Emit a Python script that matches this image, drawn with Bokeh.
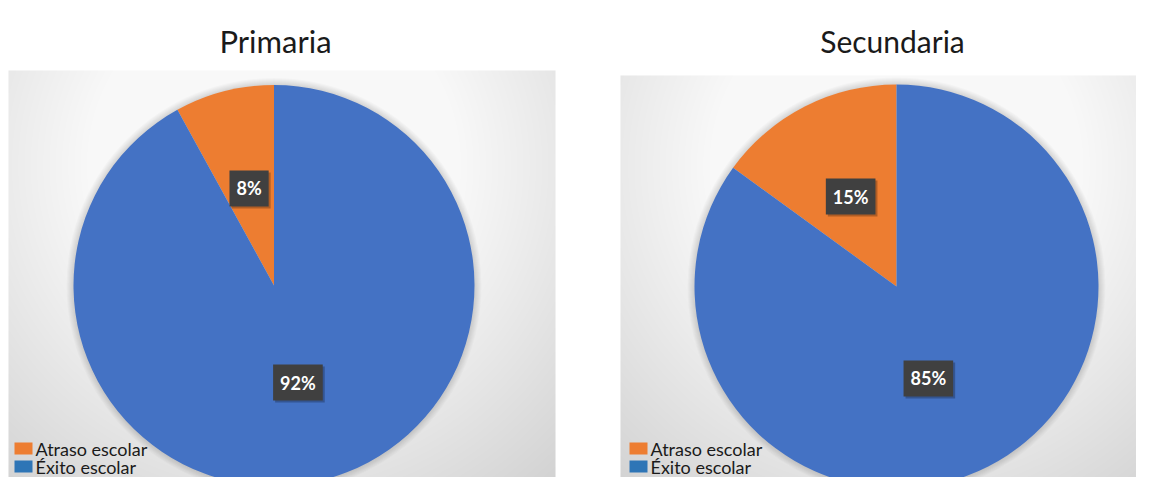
import numpy as np
from bokeh.plotting import figure
from bokeh.models import Range1d, ColumnDataSource
from bokeh.core.properties import value
from bokeh.embed import file_html
from bokeh.resources import INLINE

# ---- data ----
categories = ["Atraso escolar", "Éxito escolar"]
titles = ["Primaria", "Secundaria"]
primaria = [8, 92]
secundaria = [15, 85]
series = [primaria, secundaria]

pie_colors = ["#ED7D31", "#4472C4"]
legend_colors = ["#ED7D31", "#2E75B6"]

IMG_H = 493
FIG_W, FIG_H = 1136, 477


def Y(y):
    return IMG_H - y


p = figure(width=FIG_W, height=FIG_H, x_range=Range1d(0, FIG_W),
           y_range=Range1d(Y(FIG_H), Y(0)), output_backend="svg",
           toolbar_location=None, x_axis_location=None, y_axis_location=None,
           min_border=0, outline_line_color=None,
           background_fill_color="white", border_fill_color="white")
p.grid.visible = False

# layout (pixel positions); nudge = label pixel shifts per slice
layouts = [
    dict(area=(8, 555, 70), cx=273.5, cy=285, r=200.5, tx=275, tsize="31px",
         leg=(14, 35), nudge=[(0, 0), (-1, 0)]),
    dict(area=(620, 1152, 75), cx=896, cy=286, r=202, tx=892, tsize="30px",
         leg=(629, 650), nudge=[(0, 0), (-14, -2)]),
]

FONT = value("Lato")

for title, vals, L in zip(titles, series, layouts):
    x0, x1, ytop = L["area"]
    cx, cyi, r = L["cx"], L["cy"], L["r"]
    cy = Y(cyi)
    # background radial gradient
    w = x1 - x0
    h = IMG_H - ytop
    xs = np.arange(w) + x0 + 0.5
    ys_img = IMG_H - (np.arange(h) + 0.5)
    XX, YY = np.meshgrid(xs, ys_img)
    d = np.hypot(XX - cx, YY - (cyi - 120))
    v = np.clip(246 - 0.16 * (d - 200), 206, 248).astype(np.uint32)
    img = (np.uint32(255) << 24) | (v << 16) | (v << 8) | v
    p.image_rgba(image=[img], x=x0, y=0, dw=w, dh=h)

    # soft shadow around pie
    for i in range(1, 8):
        p.circle(x=cx, y=cy, radius=r + i, fill_color="black",
                 fill_alpha=0.018, line_color=None)

    vals = np.array(vals, dtype=float)
    frac = vals / vals.sum()
    start = np.pi / 2 + 2 * np.pi * np.concatenate([[0], np.cumsum(frac)[:-1]])
    end = start + 2 * np.pi * frac
    mid = (start + end) / 2
    nx = np.array([n[0] for n in L["nudge"]])
    ny = np.array([n[1] for n in L["nudge"]])
    src = ColumnDataSource(dict(
        start=start, end=end, color=pie_colors,
        lx=cx + 0.5 * r * np.cos(mid) + nx,
        ly=cy + 0.5 * r * np.sin(mid) + ny,
        label=[f"{int(round(f * 100))}%" for f in frac],
    ))
    p.wedge(x=cx, y=cy, radius=r, start_angle="start", end_angle="end",
            direction="anticlock", fill_color="color", line_color=None,
            source=src)
    # label shadow
    p.text(x="lx", y="ly", text="label", source=src, x_offset=2, y_offset=2,
           text_align="center", text_baseline="middle", text_alpha=0,
           text_font=FONT, text_font_style="bold", text_font_size="18px",
           background_fill_color="black", background_fill_alpha=0.25,
           padding=(7, 7))
    p.text(x="lx", y="ly", text="label", source=src,
           text_align="center", text_baseline="middle", text_color="white",
           text_font=FONT, text_font_style="bold", text_font_size="18px",
           background_fill_color="#404040", padding=(7, 7))

    # title
    p.text(x=[L["tx"]], y=[Y(40)], text=[title], text_align="center",
           text_baseline="alphabetic", text_color="#1a1a1a", text_font=FONT,
           text_font_size=L["tsize"])

    # legend
    sx, tx = L["leg"]
    rows = [Y(448), Y(466)]
    p.rect(x=[sx + 9] * 2, y=rows, width=18, height=12,
           fill_color=legend_colors, line_color=None)
    p.text(x=[tx] * 2, y=rows, text=categories, text_align="left",
           text_baseline="middle", text_color="#1a1a1a", text_font=FONT,
           text_font_size="18px")

open("out.html", "w").write(file_html(p, INLINE))
